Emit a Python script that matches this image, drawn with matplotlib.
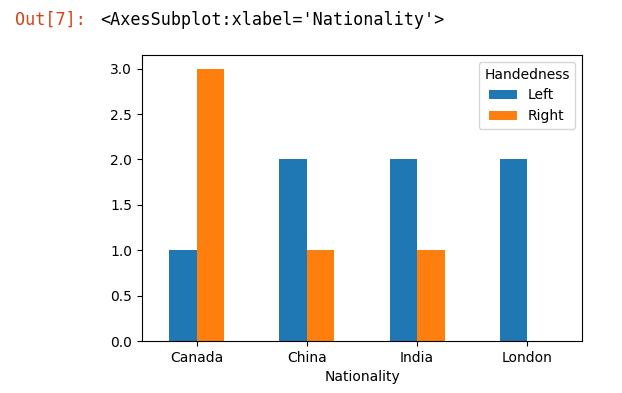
import matplotlib.pyplot as plt
import numpy as np

# === DADOS ===
nacionalidades = ["Canada", "China", "India", "London"]
left = [1, 2, 2, 2]
right = [3, 1, 1, 0]

fig = plt.figure(figsize=(6.22, 3.93), dpi=100)
ax = fig.add_axes([0.228, 0.132, 0.708, 0.728])

x = np.arange(len(nacionalidades))
w = 0.25
ax.bar(x - w/2, left, w, color="#1f77b4", label="Left")
ax.bar(x + w/2, right, w, color="#ff7f0e", label="Right")

ax.set_xlim(-0.5, len(nacionalidades) - 0.5)
ax.set_ylim(0, 3.15)
ax.set_yticks(np.arange(0, 3.01, 0.5))
ax.set_xticks(x)
ax.set_xticklabels(nacionalidades, rotation=0)
ax.set_xlabel("Nationality")
ax.legend(title="Handedness", loc="upper right")

# saída do notebook
fig.text(15/622, 1 - 20/393, "Out[7]:", color="#D84315",
         family="DejaVu Sans Mono", fontsize=12.1, va="center")
fig.text(100/622, 1 - 20/393, "<AxesSubplot:xlabel='Nationality'>", color="black",
         family="DejaVu Sans Mono", fontsize=12.1, va="center")

fig.savefig("out.png", dpi=100)
